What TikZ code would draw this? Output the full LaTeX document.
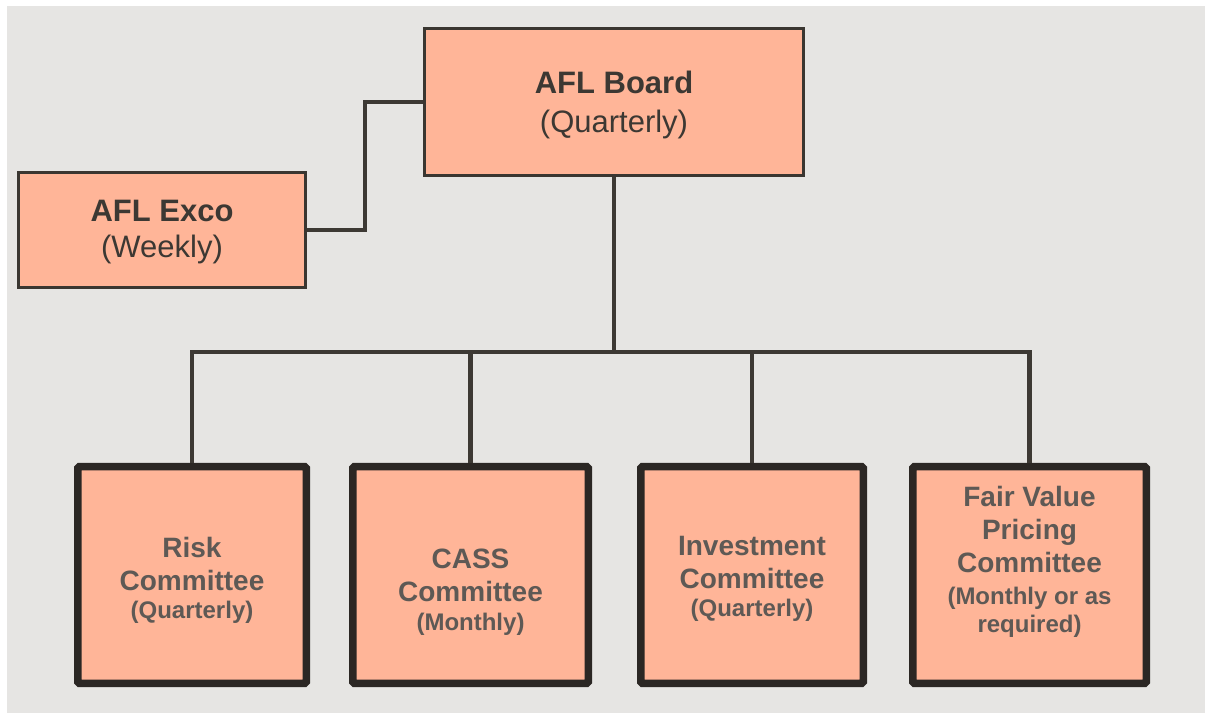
\documentclass[tikz,border=0pt]{standalone}
\usepackage{fontspec}
\setmainfont{Liberation Sans}
\definecolor{bg}{HTML}{E6E5E3}
\definecolor{boxfill}{HTML}{FFB598}
\definecolor{topline}{HTML}{3A3631}
\definecolor{botline}{HTML}{2B2724}
\definecolor{conn}{HTML}{3D3934}
\definecolor{toptext}{HTML}{3C3833}
\definecolor{bottext}{HTML}{5E5955}
\newcommand{\subf}{\fontsize{24}{28}\selectfont}
\tikzset{
  topbox/.style={draw=topline, line width=3pt, fill=boxfill, rectangle, inner sep=0pt},
  botbox/.style={draw=botline, line width=7.5pt, fill=boxfill, rectangle, rounded corners=1.5pt, inner sep=0pt, minimum height=216.5pt},
  toptxt/.style={text=toptext, align=center, inner sep=0pt},
  bottxt/.style={text=bottext, align=center, inner sep=0pt, font=\fontsize{28}{33}\selectfont\bfseries},
  connector/.style={draw=conn, line width=4.5pt}
}
\begin{document}
\begin{tikzpicture}[x=1pt,y=1pt]
\useasboundingbox (0,0) rectangle (1205,713);
\fill[white] (0,0) rectangle (1205,713);
\fill[bg] (7,0) rectangle (1205,707);
% top boxes
\node[topbox, minimum width=379pt, minimum height=147pt] (board) at (614,611) {};
\node[topbox, minimum width=287pt, minimum height=115pt] (exco) at (162,483) {};
\node[toptxt, font=\fontsize{31}{39}\selectfont] (boardtxt) at (614,608) {\textbf{AFL Board}\\(Quarterly)};
\node[toptxt, font=\fontsize{31}{36}\selectfont] (excotxt) at (162,480.5) {\textbf{AFL Exco}\\(Weekly)};
% bottom boxes
\node[botbox, minimum width=228.5pt] (risk) at (192,138) {};
\node[botbox, minimum width=235.5pt] (cass) at (470.5,138) {};
\node[botbox, minimum width=222.5pt] (inv) at (752,138) {};
\node[botbox, minimum width=233.5pt] (fair) at (1029.5,138) {};
\node[bottxt] (risktxt) at (192,133) {Risk\\Committee\\[-5pt]{\subf (Quarterly)}};
\node[bottxt] (casstxt) at (470.5,120.5) {CASS\\Committee\\[-4pt]{\subf (Monthly)}};
\node[bottxt] (invtxt) at (752,134.5) {Investment\\Committee\\[-5pt]{\subf (Quarterly)}};
\node[bottxt] (fairtxt) at (1029.5,151) {Fair Value\\Pricing\\Committee\\[-1pt]{\subf (Monthly or as}\\[-5pt]{\subf required)}};
% connectors
\coordinate (bus) at (614,361);
\draw[connector] (exco.east) -- ++(58,0) |- (board.west);
\draw[connector] (board.south) -- (bus);
\draw[connector] (risk.north) -- (risk.north |- bus) -- (fair.north |- bus) -- (fair.north);
\draw[connector] (cass.north) -- (cass.north |- bus);
\draw[connector] (inv.north) -- (inv.north |- bus);
\end{tikzpicture}
\end{document}
